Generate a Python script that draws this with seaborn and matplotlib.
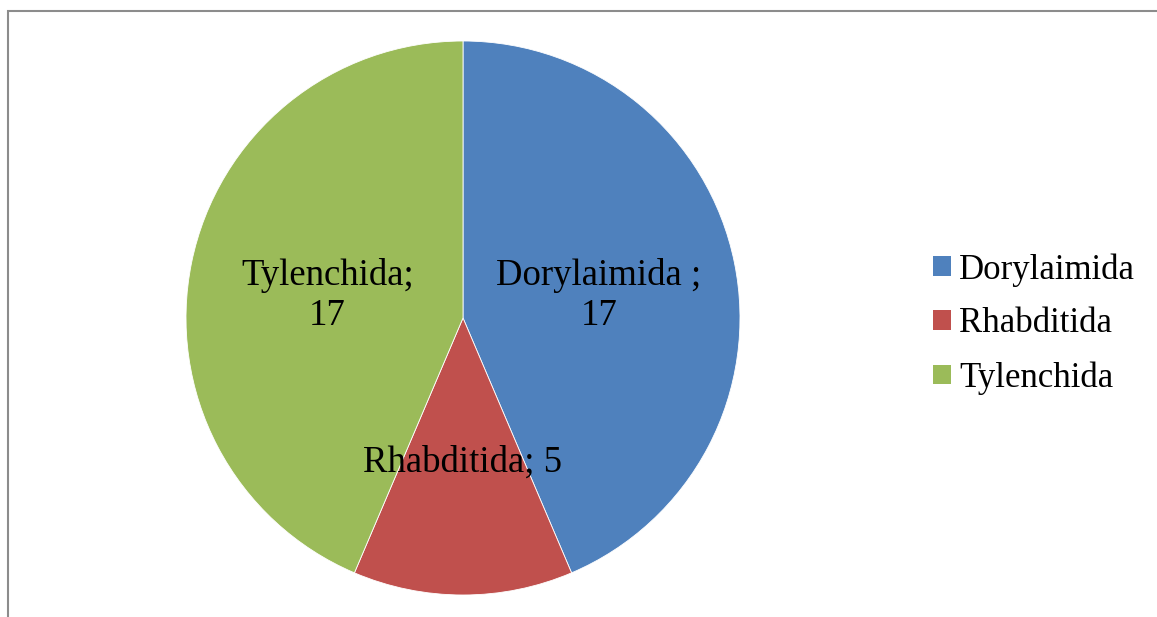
import matplotlib
matplotlib.use("Agg")
import matplotlib.pyplot as plt
import seaborn as sns
from matplotlib.patches import Rectangle, Patch

# Data
orders = ["Dorylaimida", "Rhabditida", "Tylenchida"]
counts = [17, 5, 17]
slice_labels = ["Dorylaimida ;\n17", "Rhabditida; 5", "Tylenchida;\n17"]
colors = ["#4F81BD", "#C0504D", "#9BBB59"]

sns.set_theme(style="white")
plt.rcParams["font.family"] = ["Liberation Serif", "DejaVu Serif"]

fig = plt.figure(figsize=(11.57, 6.17), dpi=100)
W, H = 1157, 617

# pie box: centre (463, 318), radius 277 px
cx, cy, r = 463, 318, 277
ax = fig.add_axes([(cx - r) / W, (H - cy - r) / H, 2 * r / W, 2 * r / H])

label_iter = iter(slice_labels)
wedges, _, autotexts = ax.pie(
    counts,
    colors=sns.color_palette(colors),
    startangle=90,
    counterclock=False,
    radius=1,
    autopct=lambda p: next(label_iter),
    pctdistance=0.5,
    wedgeprops=dict(edgecolor="white", linewidth=0.6),
    textprops=dict(fontsize=26.5, color="black"),
)
for t in autotexts:
    t.set_linespacing(1.2)
    # labels sit a little below the wedge centre in the original
    t.set_y(t.get_position()[1] - 0.02)
ax.set_xlim(-1, 1)
ax.set_ylim(-1, 1)

handles = [Patch(facecolor=c, edgecolor="none") for c in colors]
fig.legend(
    handles, orders,
    loc="center left",
    bbox_to_anchor=(916 / W, (H - 324) / H),
    frameon=False,
    fontsize=25,
    labelcolor="black",
    handlelength=0.5,
    handleheight=0.5,
    handletextpad=0.25,
    labelspacing=0.6,
    borderpad=0,
)

# chart frame
fig.patches.append(Rectangle((8 / W, -0.05), 1.1, (H - 11) / H + 0.05,
                             transform=fig.transFigure, fill=False,
                             edgecolor="#8c8c8c", linewidth=1.5))

fig.savefig("out.png", dpi=100)
